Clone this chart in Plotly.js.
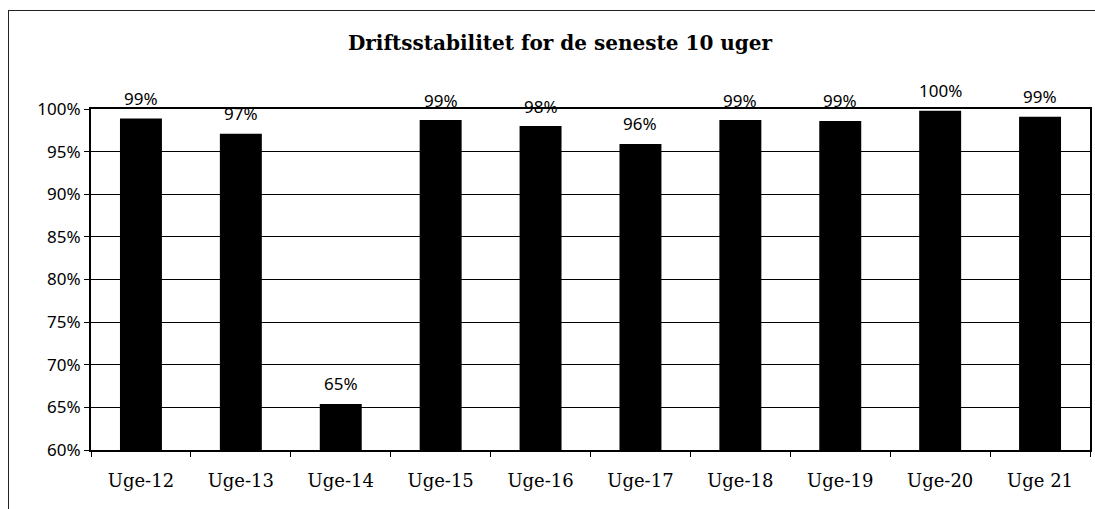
<!DOCTYPE html>
<html>
<head>
<meta charset="utf-8">
<script src="https://cdn.plot.ly/plotly-3.0.1.min.js"></script>
<style>
  html, body { margin: 0; padding: 0; background: #fff; }
  #wrap { position: relative; width: 1095px; height: 509px; }
  #chart { width: 1095px; height: 509px; }
  #frame { position: absolute; left: 8px; top: 10px; width: 1100px; height: 520px;
           border-left: 1px solid #222; border-top: 1px solid #222; pointer-events: none; }
</style>
</head>
<body>
<div id="wrap">
  <div id="chart"></div>
  <div id="frame"></div>
</div>
<script>
const weeks = ["Uge-12", "Uge-13", "Uge-14", "Uge-15", "Uge-16", "Uge-17", "Uge-18", "Uge-19", "Uge-20", "Uge 21"];
const stability = [0.989, 0.971, 0.654, 0.987, 0.980, 0.959, 0.987, 0.986, 0.998, 0.991];
const yTicks = [0.60, 0.65, 0.70, 0.75, 0.80, 0.85, 0.90, 0.95, 1.00];
const chartTitle = "Driftsstabilitet for de seneste 10 uger";

const labelFont = { family: "Noto Sans, sans-serif", size: 17, color: "#000" };

const annotations = weeks.map((w, i) => ({
  x: w, y: stability[i], xref: "x", yref: "y",
  text: Math.round(stability[i] * 100) + "%",
  showarrow: false, yanchor: "middle", yshift: 20,
  font: labelFont
}));

const data = [{
  type: "bar",
  x: weeks,
  y: stability,
  marker: { color: "#000", line: { width: 0 } },
  hoverinfo: "x+y"
}];

const layout = {
  width: 1095, height: 509,
  margin: { l: 91, r: 5, t: 109, b: 59 },
  paper_bgcolor: "#fff",
  plot_bgcolor: "#fff",
  showlegend: false,
  bargap: 0.58,
  title: {
    text: "<b>" + chartTitle + "</b>",
    font: { family: "DejaVu Serif, serif", size: 20, color: "#000" },
    xref: "container", x: 560 / 1095, xanchor: "center", y: 1 - 43 / 509, yanchor: "middle"
  },
  xaxis: {
    type: "category",
    tickson: "boundaries",
    ticks: "outside", ticklen: 5, tickcolor: "#000", tickwidth: 1,
    showline: true, linecolor: "#000", linewidth: 2, mirror: true,
    showgrid: false,
    ticklabelstandoff: 13,
    tickfont: { family: "DejaVu Serif, serif", size: 18, color: "#000" }
  },
  yaxis: {
    range: [0.60, 1.00],
    tickvals: yTicks,
    ticktext: yTicks.map(v => Math.round(v * 100) + "%"),
    ticks: "outside", ticklen: 5, tickcolor: "#000", tickwidth: 1,
    showline: true, linecolor: "#000", linewidth: 2, mirror: true,
    showgrid: true, gridcolor: "#000", gridwidth: 1,
    zeroline: false,
    tickfont: { family: "Noto Sans, sans-serif", size: 17, color: "#000" }
  },
  annotations: annotations
};

Plotly.newPlot("chart", data, layout, { displayModeBar: false, staticPlot: true });
</script>
</body>
</html>
